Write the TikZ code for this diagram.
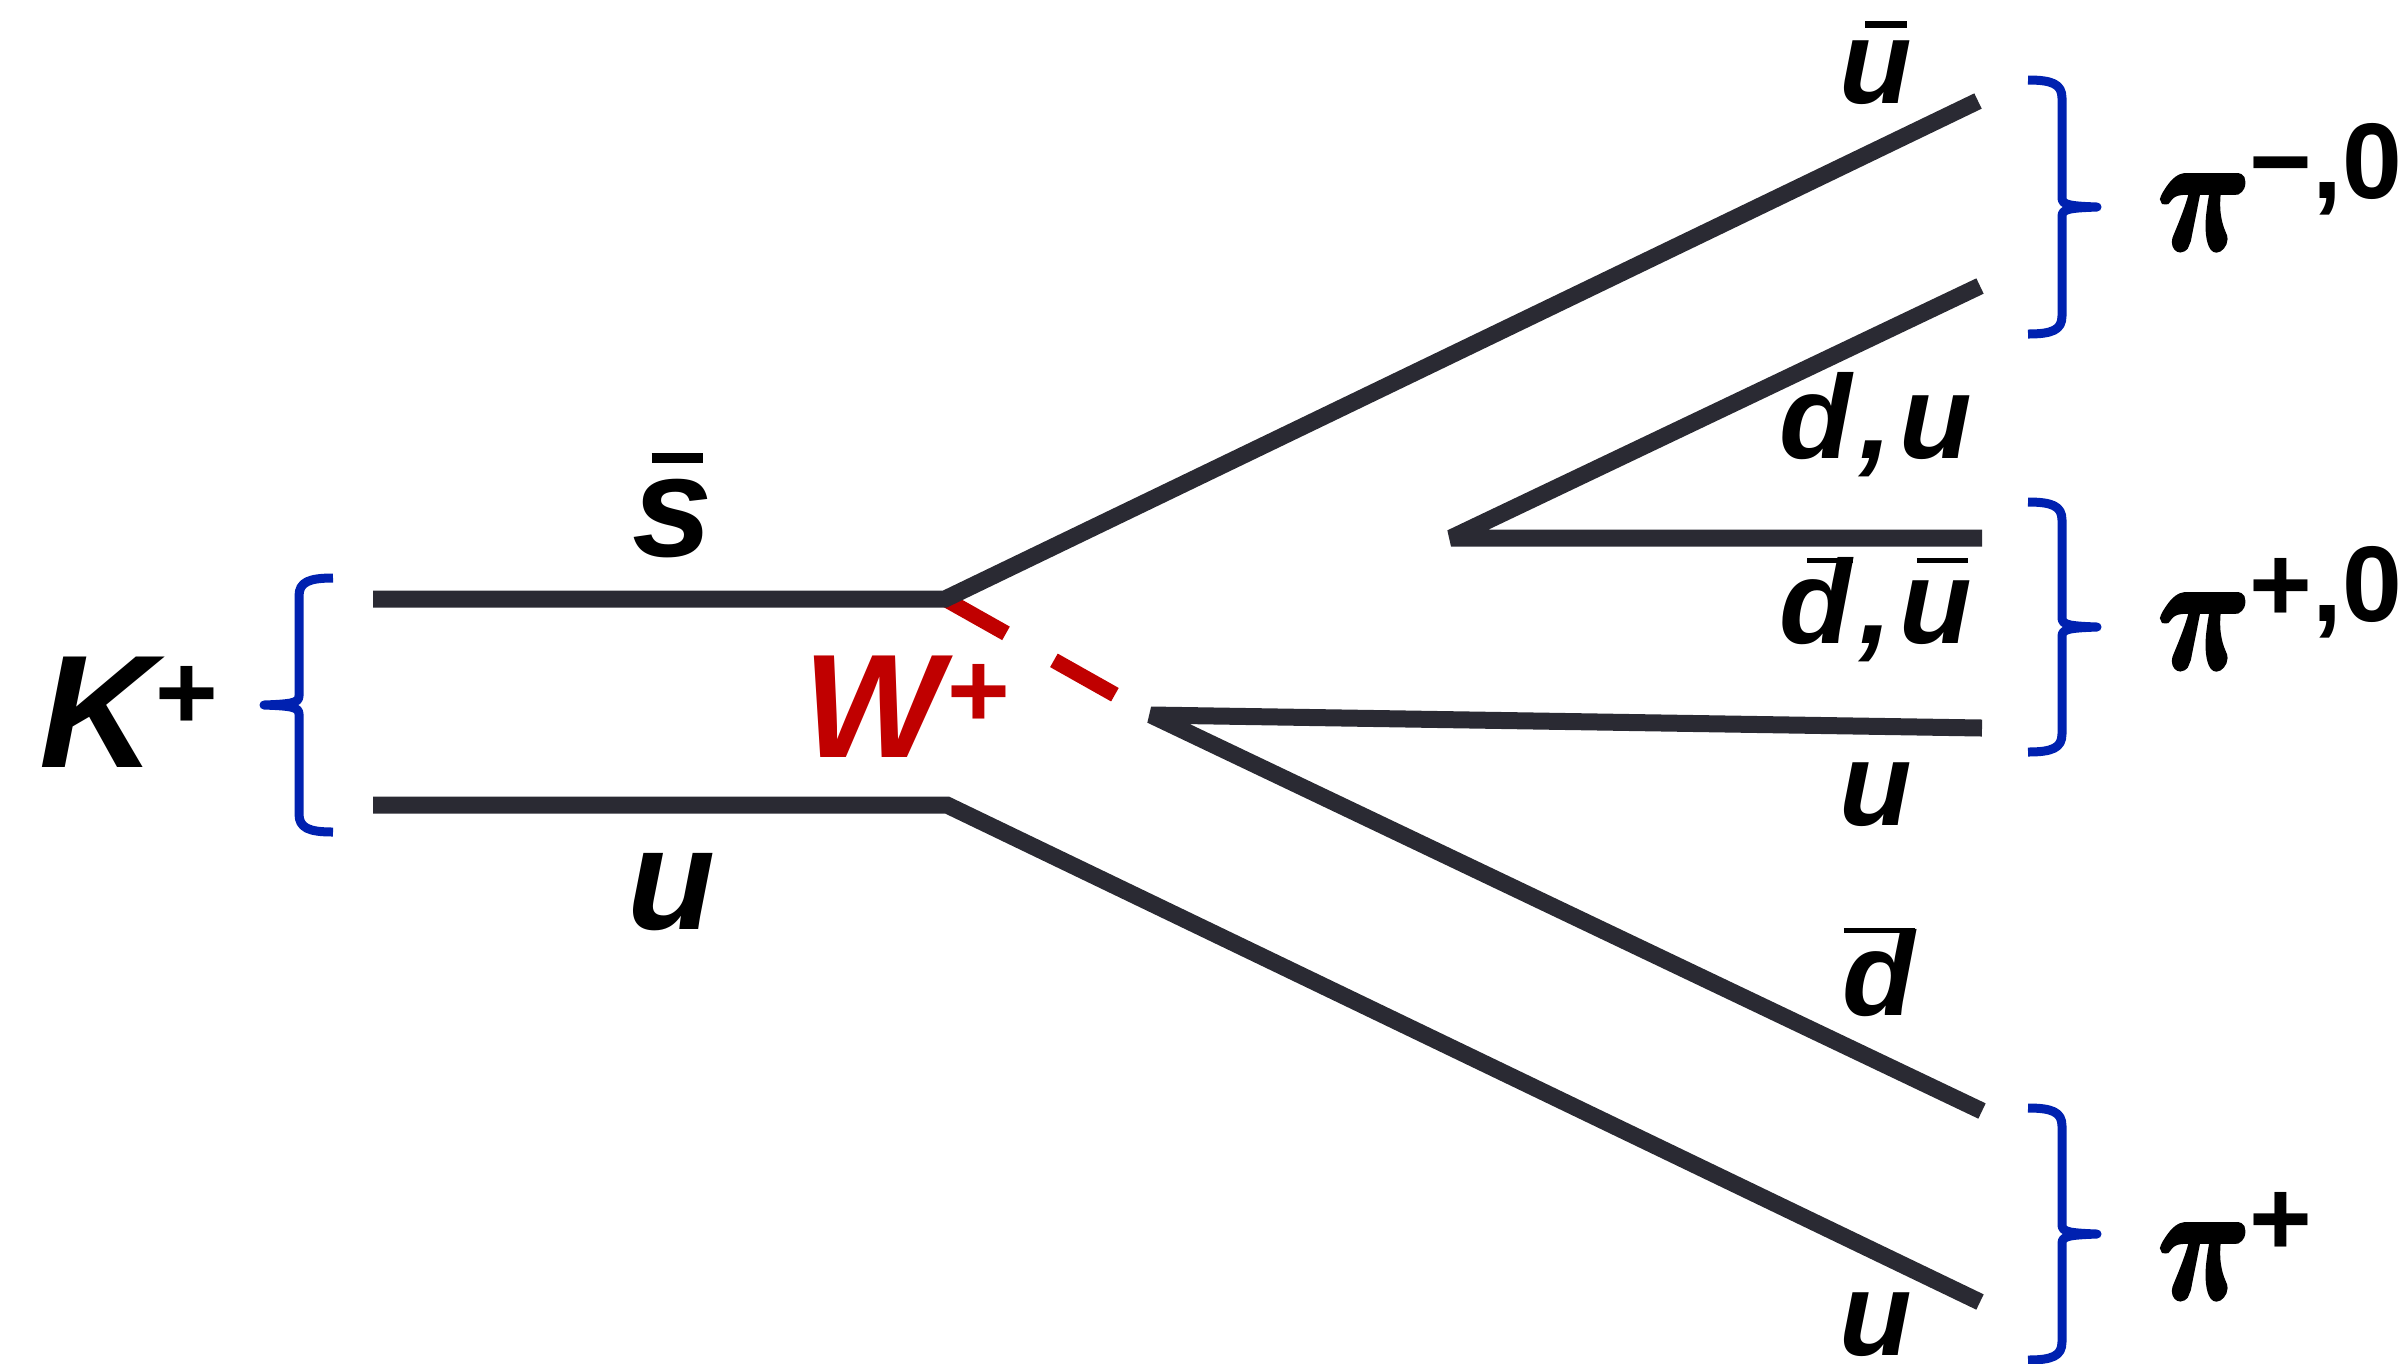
\RequirePackage{fix-cm}
\documentclass[tikz,border=0pt]{standalone}
\usepackage{bm}
\usepackage{fontspec}
\setmainfont{Liberation Sans}

\definecolor{qkline}{HTML}{2A2A33}
\definecolor{wbline}{HTML}{C00000}
\definecolor{brcol}{HTML}{0021B0}

\newcommand{\supch}[2]{\raisebox{#1}{\fontsize{30.6}{32}\selectfont\normalfont\bfseries #2}}
% bar over a quark letter: #1 shift, #2 raise, #3 length, #4 thickness
\newcommand{\qbar}[4]{\rlap{\hspace{#1}\rule[#2]{#3}{#4}}}
% heavier pi: fill and stroke the glyph
\newcommand{\piglyph}{\special{pdf:code q 2 Tr 1.8 w}\scalebox{0.78}[1]{$\bm{\pi}$}\special{pdf:code Q}}

% brace: #1 end x, #2 side (1 = tip left, -1 = tip right), #3 top y, #4 bottom y
\newcommand{\qbrace}[4]{%
  \draw[brline]
    (#1,#3)
      .. controls ({#1-(#2)*24},#3) and ({#1-(#2)*34},{#3+4}) .. ({#1-(#2)*34},{#3+18})
      -- ({#1-(#2)*34},{(#3+#4)/2-9})
      .. controls ({#1-(#2)*34},{(#3+#4)/2-2}) and ({#1-(#2)*42},{(#3+#4)/2-1}) .. ({#1-(#2)*69},{(#3+#4)/2})
      .. controls ({#1-(#2)*42},{(#3+#4)/2+1}) and ({#1-(#2)*34},{(#3+#4)/2+2}) .. ({#1-(#2)*34},{(#3+#4)/2+9})
      -- ({#1-(#2)*34},{#4-18})
      .. controls ({#1-(#2)*34},{#4-4}) and ({#1-(#2)*24},#4) .. (#1,#4);%
}

\tikzset{
  qline/.style={draw=qkline, line width=1.7mm},
  wline/.style={draw=wbline, line width=1.55mm, dash pattern=on 7mm off 5.5mm},
  brline/.style={draw=brcol, line width=0.9mm, line join=round},
  qlabL/.style={inner sep=0pt, anchor=base, font=\fontsize{41}{44}\selectfont\bfseries\itshape},
  qlabR/.style={inner sep=0pt, anchor=base, font=\fontsize{33.8}{36}\selectfont\bfseries\itshape},
  mesonlab/.style={inner sep=0pt, anchor=base west},
  pilab/.style={inner sep=0pt, anchor=base west, font=\fontsize{46}{48}\selectfont}
}

\begin{document}
\begin{tikzpicture}[x=0.1mm, y=-0.1mm]

  \useasboundingbox (0,0) rectangle (2407,1363);

  % --------------------------------------------------------------------
  % vertices and line ends
  % --------------------------------------------------------------------

  \coordinate (sbarin)   at (373,599);
  \coordinate (sbarvx)   at (945,599);
  \coordinate (ubarout)  at (1978,101);
  \coordinate (uin)      at (373,805);
  \coordinate (uvx)      at (947,805);
  \coordinate (uout)     at (1980,1302);
  \coordinate (wvx)      at (1151,715);
  \coordinate (umidout)  at (1982,728);
  \coordinate (dbarout)  at (1982,1111);
  \coordinate (pairvx)   at (1451,538);
  \coordinate (duout)    at (1980,286);
  \coordinate (dubarout) at (1982,538);

  % --------------------------------------------------------------------
  % W boson
  % --------------------------------------------------------------------

  \draw[wline] (sbarvx) -- (wvx);

  % --------------------------------------------------------------------
  % quark lines
  % --------------------------------------------------------------------

  \draw[qline] (sbarin) -- (sbarvx) -- (ubarout);
  \draw[qline] (uin) -- (uvx) -- (uout);
  \draw[qline, line join=bevel] (umidout) -- (wvx) -- (dbarout);
  \draw[qline, line join=bevel] (duout) -- (pairvx) -- (dubarout);

  % --------------------------------------------------------------------
  % braces
  % --------------------------------------------------------------------

  \qbrace{333}{1}{578}{832}
  \qbrace{2028}{-1}{80}{334}
  \qbrace{2028}{-1}{502}{752}
  \qbrace{2028}{-1}{1108}{1360}

  % --------------------------------------------------------------------
  % labels
  % --------------------------------------------------------------------

  \node[mesonlab, font=\fontsize{45.7}{48}\selectfont\bfseries\itshape] (kaon) at (39,767)
    {K\supch{3.8mm}{+}};
  \node[mesonlab, text=wbline, font=\fontsize{42}{44}\selectfont\bfseries\itshape] (wboson) at (803,757)
    {W\kern0.03em\supch{3.0mm}{+}};

  \node[qlabL] (sbarlab) at (673,556) {\qbar{0.13em}{0.646em}{0.355em}{0.07em}s};
  \node[qlabL] (ulab)    at (672,929) {u};

  \node[qlabR] (ubarlab)  at (1876,103)  {\qbar{0.214em}{0.63em}{0.353em}{0.06em}u};
  \node[qlabR] (dulab)    at (1876,458)  {d\kern0.06em,\kern0.06em u};
  \node[qlabR] (dubarlab) at (1876,643)
    {\qbar{0.23em}{0.672em}{0.387em}{0.045em}d\kern0.06em,\kern0.06em
     \qbar{0.145em}{0.672em}{0.43em}{0.045em}u};
  \node[qlabR] (umidlab)  at (1876,825)  {u};
  \node[qlabR] (dbarlab)  at (1879,1015) {\qbar{0.01em}{0.69em}{0.6em}{0.04em}d};
  \node[qlabR] (uoutlab)  at (1876,1355) {u};

  \node[pilab] (pimz) at (2158,248)  {\piglyph\supch{5.0mm}{−,0}};
  \node[pilab] (pipz) at (2158,667)  {\piglyph\supch{4.6mm}{+,0}};
  \node[pilab] (pip)  at (2158,1297) {\piglyph\supch{4.2mm}{+}};

\end{tikzpicture}
\end{document}
